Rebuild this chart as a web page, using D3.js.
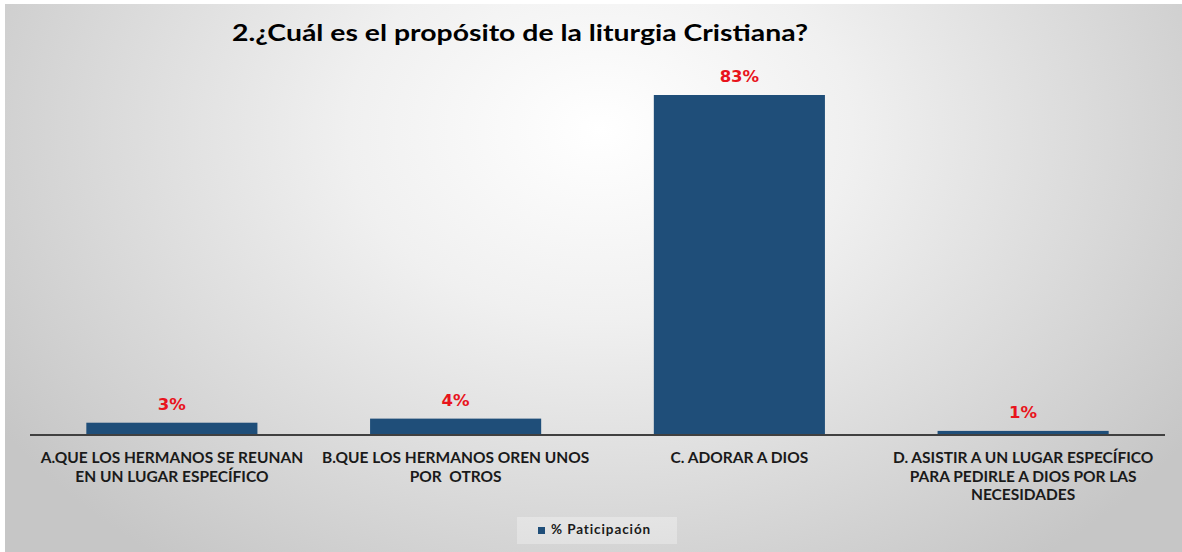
<!DOCTYPE html>
<html><head><meta charset="utf-8">
<script src="https://cdn.jsdelivr.net/npm/d3@7"></script>
<style>html,body{margin:0;padding:0;background:#fff;}svg{display:block;}</style>
</head><body>
<svg id="c" width="1182" height="552"></svg>
<script>
const title = "2.¿Cuál es el propósito de la liturgia Cristiana?";
const categories = ["A","B","C","D"];
const categoryLabels = [
  ["A.QUE LOS HERMANOS SE REUNAN","EN UN LUGAR ESPECÍFICO"],
  ["B.QUE LOS HERMANOS OREN UNOS","POR  OTROS"],
  ["C. ADORAR A DIOS"],
  ["D. ASISTIR A UN LUGAR ESPECÍFICO","PARA PEDIRLE A DIOS POR LAS","NECESIDADES"]
];
const values = [3, 4, 83, 1];
const seriesName = "% Paticipación";

const svg = d3.select("#c");
const W = 1182, H = 552;
const font = "Lato, 'Open Sans', sans-serif";

const defs = svg.append("defs");
const rg = defs.append("radialGradient").attr("id","bg")
  .attr("gradientUnits","userSpaceOnUse")
  .attr("cx",600).attr("cy",130).attr("r",720)
  .attr("gradientTransform","translate(600,130) scale(1,0.75) translate(-600,-130)");
rg.append("stop").attr("offset","0").attr("stop-color","#ffffff");
rg.append("stop").attr("offset","0.35").attr("stop-color","#f0f0f0");
rg.append("stop").attr("offset","1").attr("stop-color","#c6c6c6");

svg.append("rect").attr("x",5).attr("y",4).attr("width",W-5).attr("height",H-4).attr("fill","url(#bg)");

const x0 = 30, x1 = 1165, yBase = 435;
const x = d3.scaleBand().domain(categories).range([x0,x1]).paddingInner(0.397).paddingOuter(0.1985);
const y = d3.scaleLinear().domain([0,83]).range([yBase, 95]);

svg.append("text").attr("x",520).attr("y",41).attr("text-anchor","middle")
  .attr("font-family",font).attr("font-weight","bold").attr("font-size",22).attr("fill","#000")
  .attr("textLength",576).attr("lengthAdjust","spacingAndGlyphs")
  .text(title);

svg.selectAll("rect.bar").data(values).enter().append("rect").attr("class","bar")
  .attr("x",(d,i)=>x(categories[i])).attr("width",x.bandwidth())
  .attr("y",d=>y(d)).attr("height",d=>yBase-y(d)).attr("fill","#1f4e79");

svg.append("line").attr("x1",x0).attr("x2",x1).attr("y1",yBase).attr("y2",yBase)
  .attr("stroke","#404040").attr("stroke-width",2);

svg.selectAll("text.val").data(values).enter().append("text").attr("class","val")
  .attr("x",(d,i)=>x(categories[i])+x.bandwidth()/2).attr("y",d=>y(d)-13)
  .attr("text-anchor","middle").attr("font-family","'DejaVu Sans', Verdana, sans-serif").attr("font-weight","bold")
  .attr("font-size",16.5).attr("fill","#e8141c").text(d=>d+"%");

categoryLabels.forEach((lines,i)=>{
  const cx = x(categories[i])+x.bandwidth()/2;
  lines.forEach((ln,j)=>{
    svg.append("text").attr("x",cx).attr("y",463+j*18.5).attr("text-anchor","middle")
      .attr("font-family",font).attr("font-weight","bold").attr("font-size",15.5)
      .attr("fill","#1a1a1a").style("white-space","pre").text(ln);
  });
});

// legend
svg.append("rect").attr("x",517).attr("y",517).attr("width",160).attr("height",27)
  .attr("fill","#ffffff").attr("fill-opacity",0.3);
svg.append("rect").attr("x",538).attr("y",527).attr("width",7).attr("height",7).attr("fill","#1f4e79");
svg.append("text").attr("x",551).attr("y",534).attr("font-family",font).attr("font-weight","bold")
  .attr("font-size",13.5).attr("letter-spacing",0.9).attr("fill","#1a1a1a").text(seriesName);
</script>
</body></html>
